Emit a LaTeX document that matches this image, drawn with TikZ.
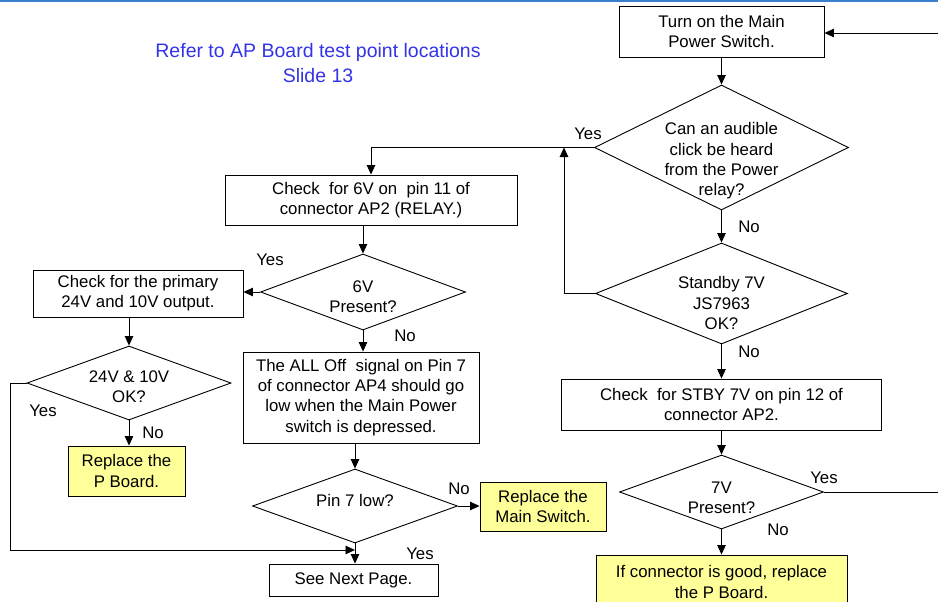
\documentclass[tikz,border=0pt]{standalone}
\usepackage{fontspec}
\setmainfont{Liberation Sans}
\usetikzlibrary{shapes.geometric,arrows.meta}

\definecolor{ruleblue}{RGB}{58,126,206}
\definecolor{titleblue}{RGB}{51,51,232}
\definecolor{noteyellow}{RGB}{255,255,153}

\tikzset{
  txt/.style={font=\fontsize{16.8}{20.3}\selectfont, align=center, inner sep=0pt},
  box/.style={txt, draw, rectangle, line width=0.9pt},
  ybox/.style={box, fill=noteyellow},
  dia/.style={draw, diamond, inner sep=0pt, line width=0.9pt},
  lbl/.style={font=\fontsize{16.8}{20.3}\selectfont, inner sep=0pt},
  link/.style={line width=0.9pt},
  arr/.style={link, -{Triangle[length=9.5pt,width=8.5pt]}},
}

\begin{document}
\begin{tikzpicture}[x=1pt,y=-1pt]
\useasboundingbox (0,0) rectangle (938,602);
\clip (0,0) rectangle (938,602);

% header rule
\draw[ruleblue, line width=1.8pt] (0,0.9) -- (938,0.9);

% reference note
\node[txt, text=titleblue, font=\fontsize{19.5}{25}\selectfont] (note) at (318,63.5)
  {Refer to AP Board test point locations\\Slide 13};

% ---- right column ----
\node[box, minimum width=205pt, minimum height=51pt] (b1) at (721.5,31.5)
  {Turn on the Main\\Power Switch.};
\node[dia, minimum width=254pt, minimum height=125pt] (d1) at (721.5,147.5) {};
\node[txt] (d1t) at (721.5,161) {Can an audible\\click be heard\\from the Power\\relay?};
\node[dia, minimum width=252pt, minimum height=101pt] (d2) at (721.5,293.5) {};
\node[txt] (d2t) at (721.5,303) {Standby 7V\\JS7963\\OK?};
\node[box, minimum width=320pt, minimum height=51pt] (b3) at (721.5,404.5)
  {Check\ \ for STBY 7V on pin 12 of\\connector AP2.};
\node[dia, minimum width=204pt, minimum height=74pt] (d3) at (721.5,492) {};
\node[txt] (d3t) at (721.5,498) {7V\\Present?};
\node[ybox, minimum width=251pt, minimum height=54pt] (y1) at (721.5,582)
  {If connector is good, replace\\the P Board.};

% ---- middle column ----
\node[box, minimum width=292pt, minimum height=50pt] (b4) at (371,200)
  {Check\ \ for 6V on\ \ pin 11 of\\connector AP2 (RELAY.)};
\node[dia, minimum width=205pt, minimum height=76pt] (d4) at (363,292) {};
\node[txt] (d4t) at (363,297) {6V\\Present?};
\node[box, minimum width=236pt, minimum height=91pt] (b6) at (361,397.5)
  {The ALL Off\ \ signal on Pin 7\\of connector AP4 should go\\low when the Main Power\\switch is depressed.};
\node[dia, minimum width=205pt, minimum height=74pt] (d6) at (355,506) {};
\node[txt] (d6t) at (355,500) {Pin 7 low?};
\node[ybox, minimum width=126pt, minimum height=49pt] (y3) at (543,506.5)
  {Replace the\\Main Switch.};
\node[box, minimum width=169pt, minimum height=32pt] (b7) at (353.5,580)
  {See Next Page.};

% ---- left column ----
\node[box, minimum width=210pt, minimum height=47pt] (b5) at (138,293.5)
  {Check for the primary\\24V and 10V output.};
\node[dia, minimum width=204pt, minimum height=74pt] (d5) at (129,383) {};
\node[txt] (d5t) at (129,387) {24V \& 10V\\OK?};
\node[ybox, minimum width=117pt, minimum height=50pt] (y2) at (126.5,471)
  {Replace the\\P Board.};

% branch labels
\node[lbl] (l1) at (588,134) {Yes};
\node[lbl] (l2) at (749,227) {No};
\node[lbl] (l3) at (749,352) {No};
\node[lbl] (l4) at (824,478) {Yes};
\node[lbl] (l5) at (778,530) {No};
\node[lbl] (l6) at (270,260) {Yes};
\node[lbl] (l7) at (405,336) {No};
\node[lbl] (l8) at (43,411) {Yes};
\node[lbl] (l9) at (153,433) {No};
\node[lbl] (l10) at (459,489) {No};
\node[lbl] (l11) at (420,554) {Yes};

% free ends and joints
\coordinate (inR) at (938,33);
\coordinate (outR) at (938,492);
\coordinate (j1) at (564,147.5);
\coordinate (lx) at (10,550);
\coordinate (j2) at (355,550);

% connectors
\draw[arr] (inR) -- (inR -| b1.east);
\draw[arr] (b1.south) -- (d1.north);
\draw[arr] (d1.west) -| (b4.north);
\draw[arr] (d1.south) -- (d2.north);
\draw[arr] (d2.west) -| (j1);
\draw[arr] (d2.south) -- (b3.north);
\draw[arr] (b3.south) -- (d3.north);
\draw[link] (d3.east) -- (outR);
\draw[arr] (d3.south) -- (y1.north);

\draw[arr] (b4.south -| d4.north) -- (d4.north);
\draw[arr] (d4.west) -- (d4.west -| b5.east);
\draw[arr] (d4.south) -- (d4.south |- b6.north);
\draw[arr] (b6.south -| d6.north) -- (d6.north);
\draw[arr] (d6.east) -- (d6.east -| y3.west);
\draw[arr] (d6.south) -- (d6.south |- b7.north);

\draw[arr] (b5.south -| d5.north) -- (d5.north);
\draw[arr] (d5.south) -- (d5.south |- y2.north);
\draw[arr] (d5.west) -- (d5.west -| lx) |- (j2);
\end{tikzpicture}
\end{document}
